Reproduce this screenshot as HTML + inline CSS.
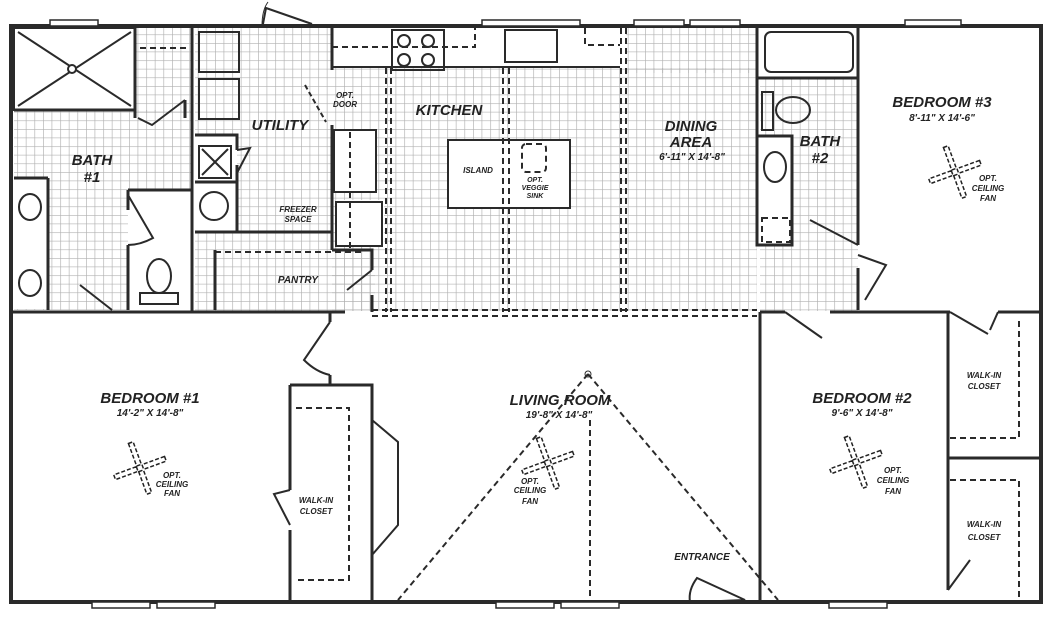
<!DOCTYPE html>
<html><head><meta charset="utf-8"><style>
html,body{margin:0;padding:0;background:#fff;}
svg{display:block}
text{font-family:"Liberation Sans",sans-serif;font-style:italic;font-weight:bold;fill:#222}
</style></head><body>
<svg width="1058" height="627" viewBox="0 0 1058 627" xmlns="http://www.w3.org/2000/svg">
<defs>
<pattern id="g" width="8.6" height="8.6" patternUnits="userSpaceOnUse">
<path d="M0 0H8.6M0 0V8.6" stroke="#b0b0b0" stroke-width="1.3" fill="none"/>
</pattern>
<g id="fan" fill="none" stroke="#222" stroke-width="1.5" stroke-dasharray="4 2">
<rect x="-2.5" y="-27" width="5" height="24" transform="rotate(-20)"/>
<rect x="-2.5" y="3" width="5" height="24" transform="rotate(-20)"/>
<rect x="-2.5" y="-27" width="5" height="24" transform="rotate(70)"/>
<rect x="-2.5" y="3" width="5" height="24" transform="rotate(70)"/>
</g>
</defs>
<rect x="14" y="110" width="178" height="200" fill="url(#g)"/>
<rect x="136" y="28" width="56" height="85" fill="url(#g)"/>
<rect x="195" y="28" width="137" height="205" fill="url(#g)"/>
<rect x="195" y="233" width="180" height="78" fill="url(#g)"/>
<rect x="332" y="68" width="425" height="243" fill="url(#g)"/>
<rect x="626" y="28" width="131" height="45" fill="url(#g)"/>
<rect x="760" y="78" width="98" height="233" fill="url(#g)"/>
<g fill="#fff">
<rect x="14" y="28" width="121" height="82"/>
<rect x="332" y="28" width="288" height="40"/>
<rect x="760" y="28" width="98" height="48"/>
<rect x="14" y="178" width="34" height="131"/>
<rect x="128" y="190" width="64" height="120"/>
<rect x="195" y="135" width="42" height="98"/>
<rect x="448" y="140" width="122" height="68"/>
<rect x="334" y="130" width="42" height="62"/>
<rect x="336" y="200" width="48" height="46"/>
<rect x="757" y="136" width="35" height="108"/>
</g>
<g fill="none" stroke="#2a2a2a" stroke-width="4">
<rect x="11" y="26" width="1030" height="576"/>
</g>
<g fill="#fff" stroke="#2a2a2a" stroke-width="1.5">
<rect x="50" y="20" width="48" height="6"/>
<rect x="482" y="20" width="98" height="6"/>
<rect x="634" y="20" width="50" height="6"/>
<rect x="690" y="20" width="50" height="6"/>
<rect x="905" y="20" width="56" height="6"/>
<rect x="92" y="602" width="58" height="6"/>
<rect x="157" y="602" width="58" height="6"/>
<rect x="496" y="602" width="58" height="6"/>
<rect x="561" y="602" width="58" height="6"/>
<rect x="829" y="602" width="58" height="6"/>
</g>
<g fill="none" stroke="#2a2a2a" stroke-width="2">
<path d="M263 24 L266 8 L312 24"/><path d="M262 26 Q262 10 268 2" stroke-width="1"/>
<path d="M697 602 L745 600 L697 578 Q688 590 690 602"/>
</g>
<g fill="none" stroke="#2a2a2a" stroke-width="3">
<path d="M11 312 H345"/>
<path d="M760 312 H785 M830 312 H950 M998 312 H1041"/>
<path d="M192 26 V312"/>
<path d="M135 28 V118 M185 100 V118"/>
<path d="M14 110 H135"/>
<path d="M128 190 H192 M128 190 V210 M128 245 V310"/>
<path d="M48 178 V310 M14 178 H48"/>
<path d="M195 135 H237 V150 M237 165 V233 M195 182 H237"/>
<path d="M195 232 H332 M332 26 V70 M332 125 V250 M332 250 H372 V270 M372 295 V312"/>
<path d="M215 250 V310"/>
<path d="M757 26 V245 H792 V136 H757 M757 78 H858"/>
<path d="M858 26 V245 M858 268 V310"/>
<path d="M760 312 V602"/>
<path d="M948 312 V590 M948 458 H1041"/>
<path d="M290 385 H372 V602 M290 385 V490 M290 530 V602"/>
<path d="M330 312 V322 M330 375 V385"/>
</g>
<g fill="none" stroke="#2a2a2a" stroke-width="2">
<path d="M138 118 L152 125 L185 100"/>
<path d="M128 195 L153 238 Q140 245 128 245"/>
<path d="M80 285 L112 310"/>
<path d="M237 150 L250 148 L237 173"/>
<path d="M372 270 L347 290"/>
<path d="M330 322 L304 360 Q316 372 330 375"/>
<path d="M290 490 L274 494 L290 525"/>
<path d="M372 420 L398 442 V525 L372 555"/>
<path d="M810 220 L858 245"/>
<path d="M858 255 L886 265 L865 300"/>
<path d="M785 312 L822 338 M950 312 L988 334 M998 312 L990 330"/>
<path d="M948 590 L970 560"/>
<path d="M305 85 L326 122" stroke-dasharray="5 3"/>
</g>
<g fill="none" stroke="#2a2a2a" stroke-width="2">
<rect x="14" y="28" width="121" height="82"/>
<path d="M18 32 L131 106 M131 32 L18 106"/>
<circle cx="72" cy="69" r="4" fill="#fff"/>
<ellipse cx="30" cy="207" rx="11" ry="13"/><ellipse cx="30" cy="283" rx="11" ry="13"/>
<ellipse cx="159" cy="276" rx="12" ry="17"/><rect x="140" y="293" width="38" height="11"/>
<rect x="199" y="32" width="40" height="40"/><rect x="199" y="79" width="40" height="40"/>
<rect x="199" y="146" width="32" height="32"/><path d="M202 149 L228 175 M228 149 L202 175"/>
<circle cx="214" cy="206" r="14"/>
<rect x="334" y="130" width="42" height="62"/>
<rect x="336" y="202" width="46" height="44"/>
<rect x="392" y="30" width="52" height="40"/>
<circle cx="404" cy="41" r="6"/><circle cx="428" cy="41" r="6"/><circle cx="404" cy="60" r="6"/><circle cx="428" cy="60" r="6"/>
<path d="M332 67 H620"/>
<rect x="505" y="30" width="52" height="32"/>
<rect x="448" y="140" width="122" height="68"/>
<rect x="765" y="32" width="88" height="40" rx="6"/>
<rect x="762" y="92" width="11" height="38"/><ellipse cx="793" cy="110" rx="17" ry="13"/>
<ellipse cx="775" cy="167" rx="11" ry="15"/>
</g>
<g fill="none" stroke="#2a2a2a" stroke-width="2" stroke-dasharray="6 4">
<path d="M140 48 H186"/>
<path d="M332 47 H475 V28"/>
<path d="M585 28 V45 H620"/>
<path d="M350 132 V248"/>
<path d="M386 68 V312 M391 68 V312"/>
<path d="M503 68 V312 M509 68 V312"/>
<path d="M621 28 V312 M626 28 V312"/>
<path d="M372 310 H757 M372 316 H757"/>
<path d="M215 252 H365"/>
<rect x="522" y="144" width="24" height="28" rx="4"/>
<rect x="762" y="218" width="28" height="24"/>
<path d="M588 374 L398 600 M588 374 L778 600 M590 420 V600"/>
<path d="M296 408 H349 V580 H296"/>
<path d="M950 438 H1019 V318"/>
<path d="M950 480 H1019 V602"/>
</g>
<g stroke="#2a2a2a" fill="none"><circle cx="588" cy="374" r="3"/></g>
<use href="#fan" x="140" y="468"/>
<use href="#fan" x="548" y="463"/>
<use href="#fan" x="856" y="462"/>
<use href="#fan" x="955" y="172"/>
<g text-anchor="middle">
<text x="92" y="165" font-size="15">BATH</text><text x="92" y="182" font-size="15">#1</text>
<text x="280" y="130" font-size="15">UTILITY</text>
<text x="449" y="115" font-size="15">KITCHEN</text>
<text x="691" y="131" font-size="15">DINING</text><text x="691" y="147" font-size="15">AREA</text>
<text x="692" y="160" font-size="10">6'-11" X 14'-8"</text>
<text x="820" y="146" font-size="15">BATH</text><text x="820" y="163" font-size="15">#2</text>
<text x="942" y="107" font-size="15">BEDROOM #3</text>
<text x="942" y="121" font-size="10">8'-11" X 14'-6"</text>
<text x="150" y="403" font-size="15">BEDROOM #1</text>
<text x="150" y="416" font-size="10">14'-2" X 14'-8"</text>
<text x="560" y="405" font-size="15">LIVING ROOM</text>
<text x="559" y="418" font-size="10">19'-8" X 14'-8"</text>
<text x="862" y="403" font-size="15">BEDROOM #2</text>
<text x="862" y="416" font-size="10">9'-6" X 14'-8"</text>
<text x="298" y="283" font-size="10">PANTRY</text>
<text x="298" y="212" font-size="8">FREEZER</text><text x="298" y="222" font-size="8">SPACE</text>
<text x="345" y="98" font-size="8">OPT.</text><text x="345" y="107" font-size="8">DOOR</text>
<text x="478" y="173" font-size="8">ISLAND</text>
<text x="535" y="182" font-size="7">OPT.</text><text x="535" y="190" font-size="7">VEGGIE</text><text x="535" y="198" font-size="7">SINK</text>
<text x="702" y="560" font-size="10">ENTRANCE</text>
<text x="316" y="503" font-size="8">WALK-IN</text><text x="316" y="514" font-size="8">CLOSET</text>
<text x="984" y="378" font-size="8">WALK-IN</text><text x="984" y="389" font-size="8">CLOSET</text>
<text x="984" y="527" font-size="8">WALK-IN</text><text x="984" y="540" font-size="8">CLOSET</text>
<g font-size="8"><text x="172" y="478">OPT.</text><text x="172" y="487">CEILING</text><text x="172" y="496">FAN</text>
<text x="530" y="484">OPT.</text><text x="530" y="493">CEILING</text><text x="530" y="504">FAN</text>
<text x="893" y="473">OPT.</text><text x="893" y="483">CEILING</text><text x="893" y="494">FAN</text>
<text x="988" y="181">OPT.</text><text x="988" y="191">CEILING</text><text x="988" y="201">FAN</text></g>
</g>
</svg>
</body></html>
